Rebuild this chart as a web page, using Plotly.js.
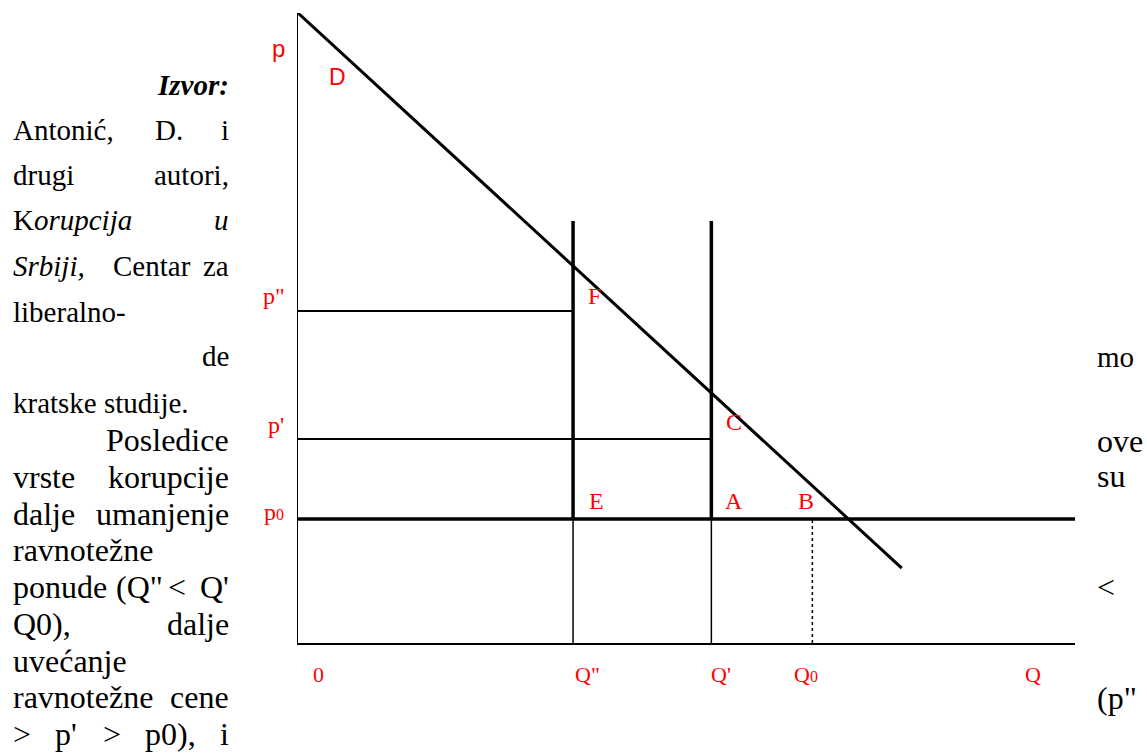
<!DOCTYPE html>
<html>
<head>
<meta charset="utf-8">
<script src="https://cdn.plot.ly/plotly-3.0.1.min.js"></script>
<style>
  html, body { margin: 0; padding: 0; background: #fff; }
  #chart { width: 1147px; height: 753px; }
</style>
</head>
<body>
<div id="chart"></div>
<script>
// quantities on the horizontal axis (0 .. 100 scale)
var quantityNames = ['0', 'Q"', "Q'", 'Q0', 'Q'];
var quantities = [0, 35.4, 53.2, 66.2, 100];

// prices on the vertical axis
var priceNames = ['p0', "p'", 'p"', 'p'];
var prices = [19.7, 32.4, 52.7, 100];

// demand line D
var demandQ = [0, 77.7];
var demandP = [100, 11.9];

// top of the two quota (restriction) lines
var quotaTop = 67;

var Qpp = quantities[1], Qp = quantities[2], Q0 = quantities[3], Qmax = quantities[4];
var p0 = prices[0], pp = prices[1], ppp = prices[2];

var W = 1147, H = 753;

function seg(x, y, width, dash) {
    return {
        type: 'scatter', mode: 'lines', x: x, y: y,
        line: {color: '#000', width: width, dash: dash || 'solid'},
        hoverinfo: 'skip', showlegend: false
    };
}

var traces = [
    seg(demandQ, demandP, 3),
    seg([0, Qmax], [p0, p0], 3.5),
    seg([Qpp, Qpp], [p0, quotaTop], 3.5),
    seg([Qp, Qp], [p0, quotaTop], 3.5),
    seg([Qpp, Qpp], [0, p0], 1.5),
    seg([Qp, Qp], [0, p0], 1.5),
    seg([0, Qpp], [ppp, ppp], 2),
    seg([0, Qp], [pp, pp], 2),
    seg([Q0, Q0], [0, p0], 1.5, 'dot')
];

// text placed by page pixel (x, baseline)
function txt(text, px, base, anchor, size, color, family) {
    size = size || 29;
    return {
        xref: 'paper', yref: 'paper',
        x: px / W, y: 1 - (base - 0.34 * size) / H,
        xanchor: anchor || 'left', yanchor: 'middle',
        text: text, showarrow: false,
        borderpad: 0, borderwidth: 0,
        font: {family: family || 'Liberation Serif, Times New Roman, serif', size: size, color: color || '#000'}
    };
}

var small = '<span style="font-size:16px">0</span>';
var red = '#ff0000';
var sans = 'Liberation Sans, Arial, sans-serif';

var labels = [
    txt(priceNames[3], 278, 57, 'center', 24, red, sans),
    txt('D', 337, 85, 'center', 23, red, sans),
    txt(priceNames[2], 274, 304, 'center', 24, red),
    txt(priceNames[1], 276, 433, 'center', 24, red),
    txt('p' + small, 274, 520, 'center', 24, red),
    txt('F', 594, 304, 'center', 24, red),
    txt('C', 734, 430, 'center', 24, red),
    txt('E', 596, 509, 'center', 24, red),
    txt('A', 734, 509, 'center', 24, red),
    txt('B', 806, 509, 'center', 24, red),
    txt(quantityNames[0], 318, 682, 'center', 22, red),
    txt(quantityNames[1], 587, 682, 'center', 22, red),
    txt(quantityNames[2], 721, 682, 'center', 22, red),
    txt('Q' + small, 806, 682, 'center', 22, red),
    txt(quantityNames[4], 1033, 682, 'center', 22, red)
];

// surrounding document text: citation (29px) then body paragraph (32px)
var L = 13, R = 229, RC = 1097;
var citation = [
    ['<b><i>Izvor:</i></b>', R, 95, 'right'],
    ['Antonić,', L, 140], ['D.', 155, 140], ['i', R, 140, 'right'],
    ['drugi', L, 185], ['autori,', R, 185, 'right'],
    ['K<i>orupcija</i>', L, 230], ['<i>u</i>', R, 230, 'right'],
    ['<i>Srbiji,</i>', L, 276], ['Centar', 113, 276], ['za', R, 276, 'right'],
    ['liberalno-', L, 322],
    ['de', R, 366, 'right'], ['mo', RC, 367],
    ['kratske studije.', L, 413]
];
var paragraph = [
    ['Posledice', R, 451, 'right'], ['ove', RC, 452],
    ['vrste', L, 488], ['korupcije', R, 488, 'right'], ['su', RC, 487],
    ['dalje', L, 525], ['umanjenje', R, 525, 'right'],
    ['ravnotežne', L, 561],
    ['ponude', L, 598], ['(Q"', 116, 598], ['&lt;', 168, 598], ["Q'", R, 598, 'right'], ['&lt;', RC, 598],
    ['Q0),', L, 635], ['dalje', R, 635, 'right'],
    ['uvećanje', L, 672],
    ['ravnotežne', L, 708], ['cene', R, 708, 'right'], ['(p"', RC, 709],
    ['&gt;', L, 745], ["p'", 55, 745], ['&gt;', 103, 745], ['p0),', 145, 745], ['i', R, 745, 'right']
];
var body = citation.map(function (w) { return txt(w[0], w[1], w[2], w[3] || 'left', 29); })
    .concat(paragraph.map(function (w) { return txt(w[0], w[1], w[2], w[3] || 'left', 32); }));

var layout = {
    width: W, height: H,
    margin: {l: 0, r: 0, t: 0, b: 0},
    paper_bgcolor: '#fff', plot_bgcolor: '#fff',
    xaxis: {
        domain: [298 / W, 1075 / W], range: [0, 100],
        showline: true, linecolor: '#000', linewidth: 1.5,
        showgrid: false, zeroline: false, showticklabels: false, ticks: ''
    },
    yaxis: {
        domain: [1 - 643 / H, 1 - 13 / H], range: [0, 100],
        showline: true, linecolor: '#000', linewidth: 1.5,
        showgrid: false, zeroline: false, showticklabels: false, ticks: ''
    },
    annotations: labels.concat(body)
};

Plotly.newPlot('chart', traces, layout, {displayModeBar: false, staticPlot: true});
</script>
</body>
</html>
